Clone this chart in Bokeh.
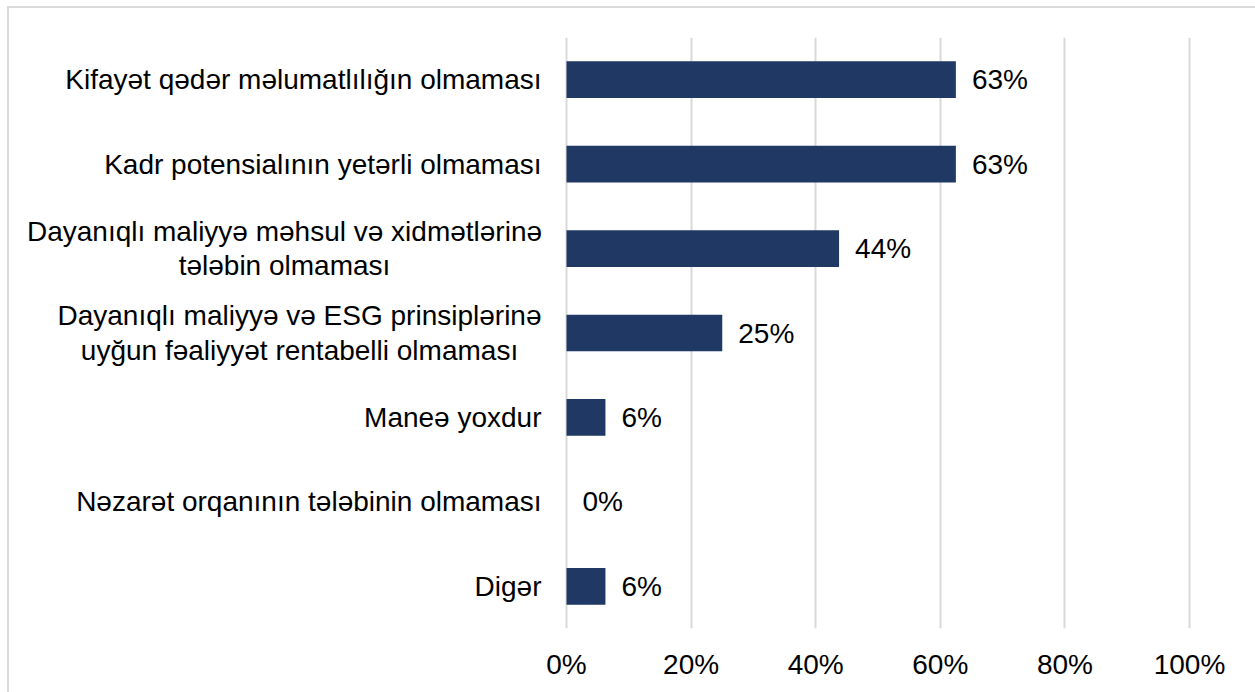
from bokeh.plotting import figure
from bokeh.models import FactorRange, Range1d, FixedTicker, ColumnDataSource
from bokeh.core.properties import value
from bokeh.embed import file_html
from bokeh.resources import INLINE

categories = [
    "Kifayət qədər məlumatlılığın olmaması",
    "Kadr potensialının yetərli olmaması",
    "Dayanıqlı maliyyə məhsul və xidmətlərinə\ntələbin olmaması",
    "Dayanıqlı maliyyə və ESG prinsiplərinə\nuyğun fəaliyyət rentabelli olmaması",
    "Maneə yoxdur",
    "Nəzarət orqanının tələbinin olmaması",
    "Digər",
]
values = [0.625, 0.625, 0.4375, 0.25, 0.0625, 0.0, 0.0625]
value_labels = ["63%", "63%", "44%", "25%", "6%", "0%", "6%"]
x_ticks = [0, 0.2, 0.4, 0.6, 0.8, 1.0]
x_tick_labels = ["0%", "20%", "40%", "60%", "80%", "100%"]

FONT = "Liberation Sans"
FS = "28px"
BAR = "#203864"
GRID = "#d9d9d9"

W, H = 1255, 692
p = figure(
    width=W, height=H, output_backend="svg", toolbar_location=None,
    y_range=FactorRange(factors=list(reversed(categories))),
    x_range=Range1d(-556 / 623, 1.0 + 3 / 623),
    min_border_left=10, min_border_right=63, min_border_top=37, min_border_bottom=64,
)
p.styles = {
    "background-image": "linear-gradient(#d9d9d9,#d9d9d9), linear-gradient(#d9d9d9,#d9d9d9)",
    "background-size": "100% 2px, 2px 100%",
    "background-position": "7px 6px, 7px 6px",
    "background-repeat": "no-repeat",
}
p.outline_line_color = None
p.background_fill_color = None
p.border_fill_color = None

p.yaxis.visible = False
p.ygrid.grid_line_color = None
p.xgrid.grid_line_color = GRID
p.xgrid.grid_line_width = 2
p.xgrid.ticker = FixedTicker(ticks=x_ticks)

xa = p.xaxis[0]
xa.ticker = FixedTicker(ticks=x_ticks)
xa.major_label_overrides = {t: l for t, l in zip(x_ticks, x_tick_labels)}
xa.axis_line_color = None
xa.major_tick_line_color = None
xa.minor_tick_line_color = None
xa.major_tick_out = 0
xa.major_tick_in = 0
xa.major_label_standoff = 20
xa.major_label_text_font = FONT
xa.major_label_text_font_size = FS
xa.major_label_text_color = "black"

src = ColumnDataSource(dict(cat=categories, val=values, lab=value_labels))
p.hbar(y="cat", left=0, right="val", height=0.435, source=src, fill_color=BAR, line_color=None)
p.text(x="val", y="cat", text="lab", source=src, x_offset=16, text_baseline="middle",
       text_align="left", text_font=value(FONT), text_font_size=FS, text_color="black")

# category labels (drawn left of zero)
single = [c for c in categories if "\n" not in c]
multi = [c for c in categories if "\n" in c]
multi_offsets = [-282, -267]
p.text(x=[0] * len(single), y=single, text=single, x_offset=-25, text_align="right",
       text_baseline="middle", text_font=value(FONT), text_font_size=FS, text_color="black")
p.text(x=[0] * len(multi), y=multi, text=multi, x_offset=multi_offsets, text_align="center",
       text_baseline="middle", text_line_height=1.12, text_font=value(FONT),
       text_font_size=FS, text_color="black")

open("out.html", "w").write(file_html(p, INLINE))
